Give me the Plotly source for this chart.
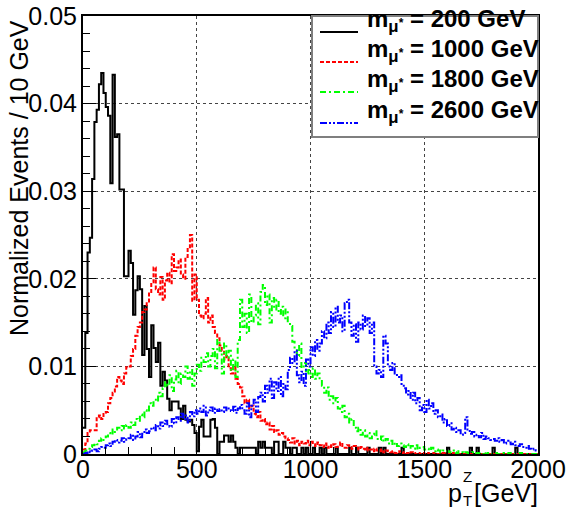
import numpy as np
import plotly.graph_objects as go

# Normalized p_T(Z) distributions, 10 GeV bins from 0 to 2000 GeV.
# Bin contents are stored in units of 1e-4.
BIN_WIDTH = 10
SCALE = 1e-4

m200 = [
    30, 138, 230, 247, 314, 379, 393, 422, 435, 412,
    396, 386, 309, 433, 362, 365, 302, 302, 203, 203,
    232, 218, 159, 187, 203, 188, 113, 169, 120, 88,
    147, 121, 105, 127, 78, 94, 84, 63, 50, 60,
    60, 60, 52, 40, 55, 39, 37, 39, 33, 24,
    3, 31, 39, 20, 20, 20, 39, 40, 30, 0,
    14, 14, 21, 21, 14, 21, 14, 7, 0, 7,
    7, 7, 7, 7, 7, 7, 0, 14, 7, 14,
    7, 7, 7, 0, 14, 14, 0, 0, 14, 7,
    7, 0, 7, 7, 0, 0, 7, 0, 7, 0,
    0, 7, 0, 0, 7, 0, 7, 0, 0, 0,
    0, 7, 0, 0, 0, 0, 0, 7, 0, 0,
    7, 0, 0, 0, 0, 7, 0, 0, 0, 0,
    7, 0, 7, 0, 0, 0, 0, 0, 0, 0,
    7, 0, 0, 0, 0, 0, 0, 0, 0, 0,
    0, 0, 0, 0, 0, 0, 0, 0, 0, 0,
    7, 0, 0, 0, 0, 0, 0, 0, 0, 0,
    7, 0, 0, 7, 0, 0, 0, 0, 0, 0,
    7, 0, 0, 0, 0, 0, 0, 0, 0, 0,
    7, 0, 0, 0, 0, 0, 0, 0, 0, 0,
]

m1000 = [
    5, 12, 24, 27, 27, 27, 42, 44, 40, 47,
    48, 58, 64, 70, 77, 88, 84, 80, 92, 99,
    100, 112, 120, 135, 145, 150, 162, 165, 172, 185,
    196, 213, 188, 182, 202, 176, 198, 207, 195, 228,
    209, 213, 222, 205, 200, 225, 236, 250, 175, 205,
    176, 158, 155, 160, 178, 150, 158, 145, 138, 132,
    124, 118, 108, 112, 98, 92, 100, 86, 80, 76,
    66, 58, 62, 52, 55, 46, 42, 48, 38, 40,
    34, 36, 28, 32, 25, 27, 22, 24, 20, 18,
    16, 13, 18, 12, 15, 10, 14, 12, 15, 10,
    14, 11, 9, 13, 10, 8, 12, 7, 10, 8,
    11, 8, 10, 13, 9, 7, 10, 8, 6, 9,
    7, 5, 8, 6, 4, 7, 5, 3, 6, 4,
    3, 5, 2, 4, 3, 2, 3, 1, 2, 3,
    1, 2, 1, 0, 2, 1, 0, 1, 0, 1,
    0, 1, 0, 0, 1, 0, 0, 0, 1, 0,
    0, 0, 1, 0, 0, 0, 0, 0, 0, 0,
    0, 0, 0, 0, 0, 0, 0, 0, 0, 0,
    0, 0, 0, 0, 0, 0, 0, 0, 0, 0,
    0, 0, 0, 0, 0, 0, 0, 0, 0, 0,
]

m1800 = [
    2, 4, 6, 8, 10, 12, 11, 15, 18, 16,
    20, 24, 22, 28, 25, 30, 27, 32, 29, 33,
    30, 36, 33, 40, 38, 45, 42, 50, 48, 58,
    55, 62, 60, 70, 66, 75, 82, 78, 90, 72,
    85, 95, 80, 92, 88, 100, 86, 96, 78, 92,
    102, 95, 110, 105, 115, 100, 112, 120, 98, 130,
    118, 92, 126, 110, 118, 95, 108, 88, 130, 176,
    145, 160, 138, 182, 150, 158, 172, 148, 185, 193,
    170, 182, 150, 178, 165, 176, 160, 168, 155, 165,
    150, 146, 128, 120, 112, 126, 98, 104, 92, 96,
    88, 98, 86, 92, 85, 78, 70, 76, 62, 66,
    58, 64, 52, 48, 55, 42, 46, 36, 40, 30,
    26, 30, 22, 27, 20, 24, 18, 22, 26, 17,
    16, 20, 14, 17, 12, 15, 10, 13, 9, 12,
    10, 8, 11, 7, 9, 6, 10, 5, 7, 8,
    5, 6, 4, 7, 3, 5, 4, 2, 4, 3,
    3, 2, 4, 2, 1, 3, 2, 1, 2, 1,
    1, 2, 0, 1, 1, 0, 2, 0, 1, 0,
    0, 1, 0, 0, 1, 0, 0, 1, 0, 0,
    0, 0, 1, 0, 0, 0, 0, 0, 0, 0,
]

m2600 = [
    0, 1, 3, 2, 4, 5, 3, 6, 8, 7,
    10, 12, 9, 14, 16, 13, 15, 18, 14, 17,
    18, 22, 16, 20, 25, 19, 23, 28, 24, 26,
    30, 27, 33, 29, 36, 32, 38, 34, 31, 40,
    35, 42, 38, 46, 40, 44, 36, 48, 43, 50,
    46, 52, 48, 55, 44, 50, 53, 47, 52, 49,
    51, 48, 53, 50, 52, 49, 54, 47, 52, 56,
    50, 46, 58, 42, 55, 62, 48, 65, 70, 60,
    78, 70, 86, 64, 82, 72, 88, 66, 80, 74,
    96, 110, 104, 118, 90, 82, 94, 78, 108, 100,
    122, 112, 130, 118, 126, 140, 132, 150, 138, 162,
    145, 168, 150, 158, 140, 172, 176, 150, 135, 148,
    128, 150, 142, 158, 146, 155, 138, 150, 100, 92,
    96, 88, 135, 126, 100, 96, 104, 92, 88, 90,
    80, 75, 68, 72, 62, 70, 58, 64, 50, 56,
    48, 62, 52, 58, 46, 50, 42, 45, 36, 40,
    32, 35, 28, 30, 25, 27, 22, 24, 42, 28,
    23, 25, 20, 22, 19, 24, 17, 20, 18, 16,
    17, 15, 18, 14, 16, 12, 15, 13, 11, 14,
    10, 9, 11, 8, 7, 9, 6, 5, 6, 4,
]

masses = ["200", "1000", "1800", "2600"]
series = [m200, m1000, m1800, m2600]
colors = ["#000000", "#ff0000", "#00ff00", "#0000ff"]
dashes = ["solid", "4px,2px", "6px,3px,2px,3px", "7px,2px,2px,2px,2px,2px"]

FONT = "Liberation Sans, Arial, Helvetica, sans-serif"

fig = go.Figure()
for vals, col, dash, m in zip(series, colors, dashes, masses):
    y = np.array(vals, dtype=float) * SCALE
    edges = np.arange(len(y) + 1) * BIN_WIDTH
    fig.add_trace(go.Scatter(
        x=edges, y=np.append(y, y[-1]),
        mode="lines", line=dict(color=col, width=2, dash=dash, shape="hv"),
        name=m, showlegend=False, hoverinfo="skip",
    ))

# plot-area geometry in pixels (used to place text in paper coordinates)
W, H = 568, 515
L, R, T, B = 83, 30, 16, 61
PW, PH = W - L - R, H - T - B


def px(x):
    return (x - L) / PW


def py(y):
    return (H - B - y) / PH


axis_common = dict(
    showline=True, linecolor="black", linewidth=2, mirror=True,
    ticks="inside", ticklen=13, tickwidth=1, tickcolor="black",
    showgrid=True, gridcolor="#444444", gridwidth=1, griddash="dot",
    zeroline=False, automargin=False,
    tickfont=dict(family=FONT, size=25, color="black"),
)

fig.update_xaxes(
    range=[0, 2000], dtick=500, tickformat="d", ticklabelstandoff=-8,
    minor=dict(ticks="inside", ticklen=7, dtick=100, tickcolor="black", showgrid=False),
    **axis_common,
)
fig.update_yaxes(
    range=[0, 0.05], dtick=0.01, ticklabelstandoff=-1,
    minor=dict(ticks="inside", ticklen=7, dtick=0.002, tickcolor="black", showgrid=False),
    **axis_common,
)

annotations = [
    dict(text="Normalized Events / 10 GeV", textangle=-90,
         x=px(19), y=py(18), xanchor="center", yanchor="top",
         font=dict(family=FONT, size=25, color="black")),
    dict(text="p", x=px(446), y=py(493), xanchor="left", yanchor="middle",
         font=dict(family=FONT, size=25, color="black")),
    dict(text="Z", x=px(461), y=py(476), xanchor="left", yanchor="middle",
         font=dict(family=FONT, size=15, color="black")),
    dict(text="T", x=px(461), y=py(501), xanchor="left", yanchor="middle",
         font=dict(family=FONT, size=15, color="black")),
    dict(text="[GeV]", x=px(540), y=py(493), xanchor="right", yanchor="middle",
         font=dict(family=FONT, size=25, color="black")),
]

shapes = [
    dict(type="rect", xref="paper", yref="paper",
         x0=px(312), x1=px(538), y0=py(137), y1=py(16),
         line=dict(color="#7f7f7f", width=2), fillcolor="white", layer="above"),
]

row_y = [26, 56, 86, 117]
for m, col, dash, yy in zip(masses, colors, dashes, row_y):
    shapes.append(dict(type="line", xref="paper", yref="paper",
                       x0=px(320), x1=px(358), y0=py(yy + 6), y1=py(yy + 6),
                       line=dict(color=col, width=2, dash=dash), layer="above"))
    annotations.append(dict(
        text=f"<b>m<sub>μ</sub><span style='font-size:12px'>*</span> = {m} GeV</b>",
        x=px(365), y=py(yy - 6), xanchor="left", yanchor="middle",
        font=dict(family=FONT, size=24, color="black"), showarrow=False))

for a in annotations:
    a.setdefault("xref", "paper")
    a.setdefault("yref", "paper")
    a.setdefault("showarrow", False)

fig.update_layout(
    width=W, height=H,
    margin=dict(l=L, r=R, t=T, b=B, pad=0),
    paper_bgcolor="white", plot_bgcolor="white",
    annotations=annotations, shapes=shapes,
    showlegend=False,
)

fig.write_html("out.html")
